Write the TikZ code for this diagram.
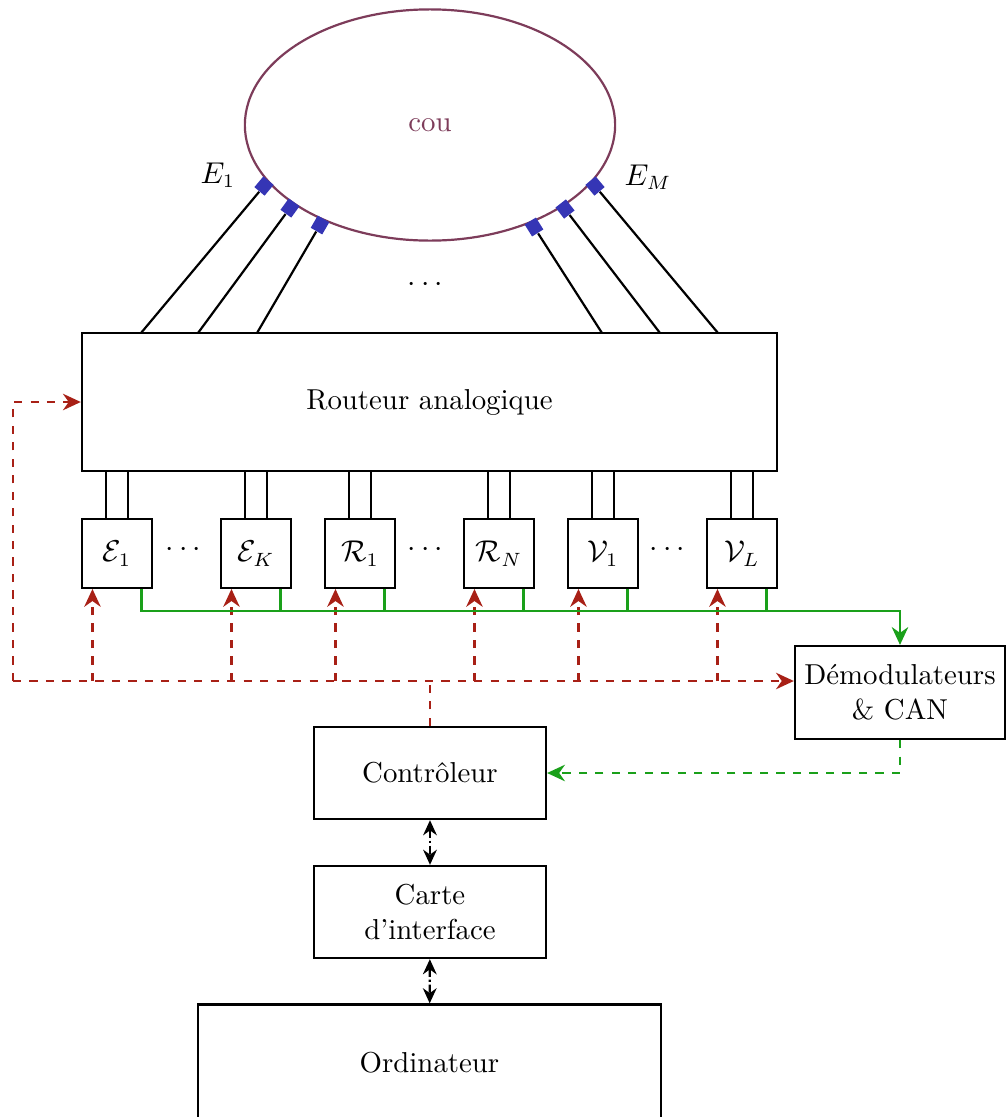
\documentclass[tikz,border=0pt]{standalone}
\usepackage{amsmath,amssymb}
\usetikzlibrary{shapes.geometric, arrows.meta, positioning, calc}

\definecolor{coucol}{HTML}{7D3C5A}
\definecolor{ctlred}{HTML}{A82016}
\definecolor{siggreen}{HTML}{1AA01A}
\definecolor{elecblue}{HTML}{3535B5}

\tikzset{
  bloc/.style={draw, line width=0.8pt, rectangle, align=center},
  canal/.style={draw, line width=0.8pt, minimum width=0.9cm, minimum height=0.88cm, inner sep=0pt},
  elec/.style={fill=elecblue, minimum width=0.18cm, minimum height=0.17cm, inner sep=0pt},
  ctl/.style={ctlred, line width=0.8pt, dashed},
  sig/.style={siggreen, line width=0.8pt},
  sigd/.style={siggreen, line width=0.8pt, dashed},
  lien/.style={line width=0.8pt, densely dash dot, {Stealth[length=5.5pt,width=5pt]}-{Stealth[length=5.5pt,width=5pt]}},
}

\begin{document}
\begin{tikzpicture}[x=0.0128cm, y=-0.0128cm, >={Stealth[length=6.5pt,width=6pt]},
    font=\fontsize{10.5pt}{12.6pt}\selectfont]
  \useasboundingbox (0,0) rectangle (1005,1117);
  % cou et electrodes
  \node[ellipse, draw=coucol, line width=0.8pt, text=coucol, minimum width=4.74cm, minimum height=2.96cm, inner sep=0pt] (cou) at (430,125) {cou};
  \foreach \n/\x/\y/\a in {el1/264/186/50, el2/290/208/54, el3/320/225/60, er1/534/227/-58, er2/565/209/-52, er3/595/186/-50}
    {\node[elec, rotate=\a] (\n) at (\x,\y) {};}
  \node (lE1) at (218,175) {$E_1$};
  \node (lEM) at (648,177) {$E_M$};
  \node (dtop) at (428,285) {$\cdots$};

  % routeur
  \node[bloc, minimum width=8.9cm, minimum height=1.77cm] (router) at (429.5,402) {Routeur analogique};
  \foreach \n/\x in {a1/141, a2/198, a3/257, b1/602, b2/660, b3/718}
    {\coordinate (\n) at (\x,333);}
  \foreach \e/\c in {el1/a1, el2/a2, el3/a3, er1/b1, er2/b2, er3/b3}
    {\draw[line width=0.8pt] (\e) -- (\c);}

  % voies
  \foreach \n/\x/\t in {e1/117/{\mathcal{E}_1}, eK/256/{\mathcal{E}_K}, r1/360/{\mathcal{R}_1}, rN/499/{\mathcal{R}_N}, v1/603/{\mathcal{V}_1}, vL/742/{\mathcal{V}_L}}
    {\node[canal] (\n) at (\x,553.5) {$\t$};}
  \node (d1) at (186,550) {$\cdots$};
  \node (d2) at (428,550) {$\cdots$};
  \node (d3) at (670,550) {$\cdots$};
  \foreach \n in {e1,eK,r1,rN,v1,vL}
    {\draw[line width=0.8pt] ([xshift=-0.14cm]\n.north) -- ([xshift=-0.14cm]\n.north |- router.south);
     \draw[line width=0.8pt] ([xshift=0.14cm]\n.north) -- ([xshift=0.14cm]\n.north |- router.south);}

  % blocs du bas
  \node[bloc, minimum width=2.69cm, minimum height=1.19cm] (demod) at (900,692.5) {D\'emodulateurs\\\& CAN};
  \node[bloc, minimum width=2.97cm, minimum height=1.18cm] (ctrl) at (430,773) {Contr\^oleur};
  \node[bloc, minimum width=2.97cm, minimum height=1.18cm] (carte) at (430,912) {Carte\\d'interface};
  \node[bloc, minimum width=5.93cm, minimum height=1.5cm] (ordi) at (429.5,1063) {Ordinateur};

  % bus de commande (rouge)
  \coordinate (busR) at (13,681);
  \coordinate (busG) at (140,611);
  \draw[ctl] (ctrl.north) -- (ctrl.north |- busR);
  \draw[ctl,->] (busR) -- (demod.west |- busR);
  \draw[ctl,->] (busR) |- (router.west);
  \foreach \n in {e1,eK,r1,rN,v1,vL}
    {\draw[ctl,->] ([xshift=0.15cm]\n.south west |- busR) -- ([xshift=0.15cm]\n.south west);}

  % signaux (vert)
  \draw[sig,->] ([xshift=-0.15cm]e1.south east) |- (demod.north |- busG) -- (demod.north);
  \foreach \n in {eK,r1,rN,v1,vL}
    {\draw[sig] ([xshift=-0.15cm]\n.south east) -- ([xshift=-0.15cm]\n.south east |- busG);}
  \draw[sigd,->] (demod.south) |- (ctrl.east);

  % liaisons
  \draw[lien] (ctrl) -- (carte);
  \draw[lien] (carte) -- (ordi);
\end{tikzpicture}
\end{document}
